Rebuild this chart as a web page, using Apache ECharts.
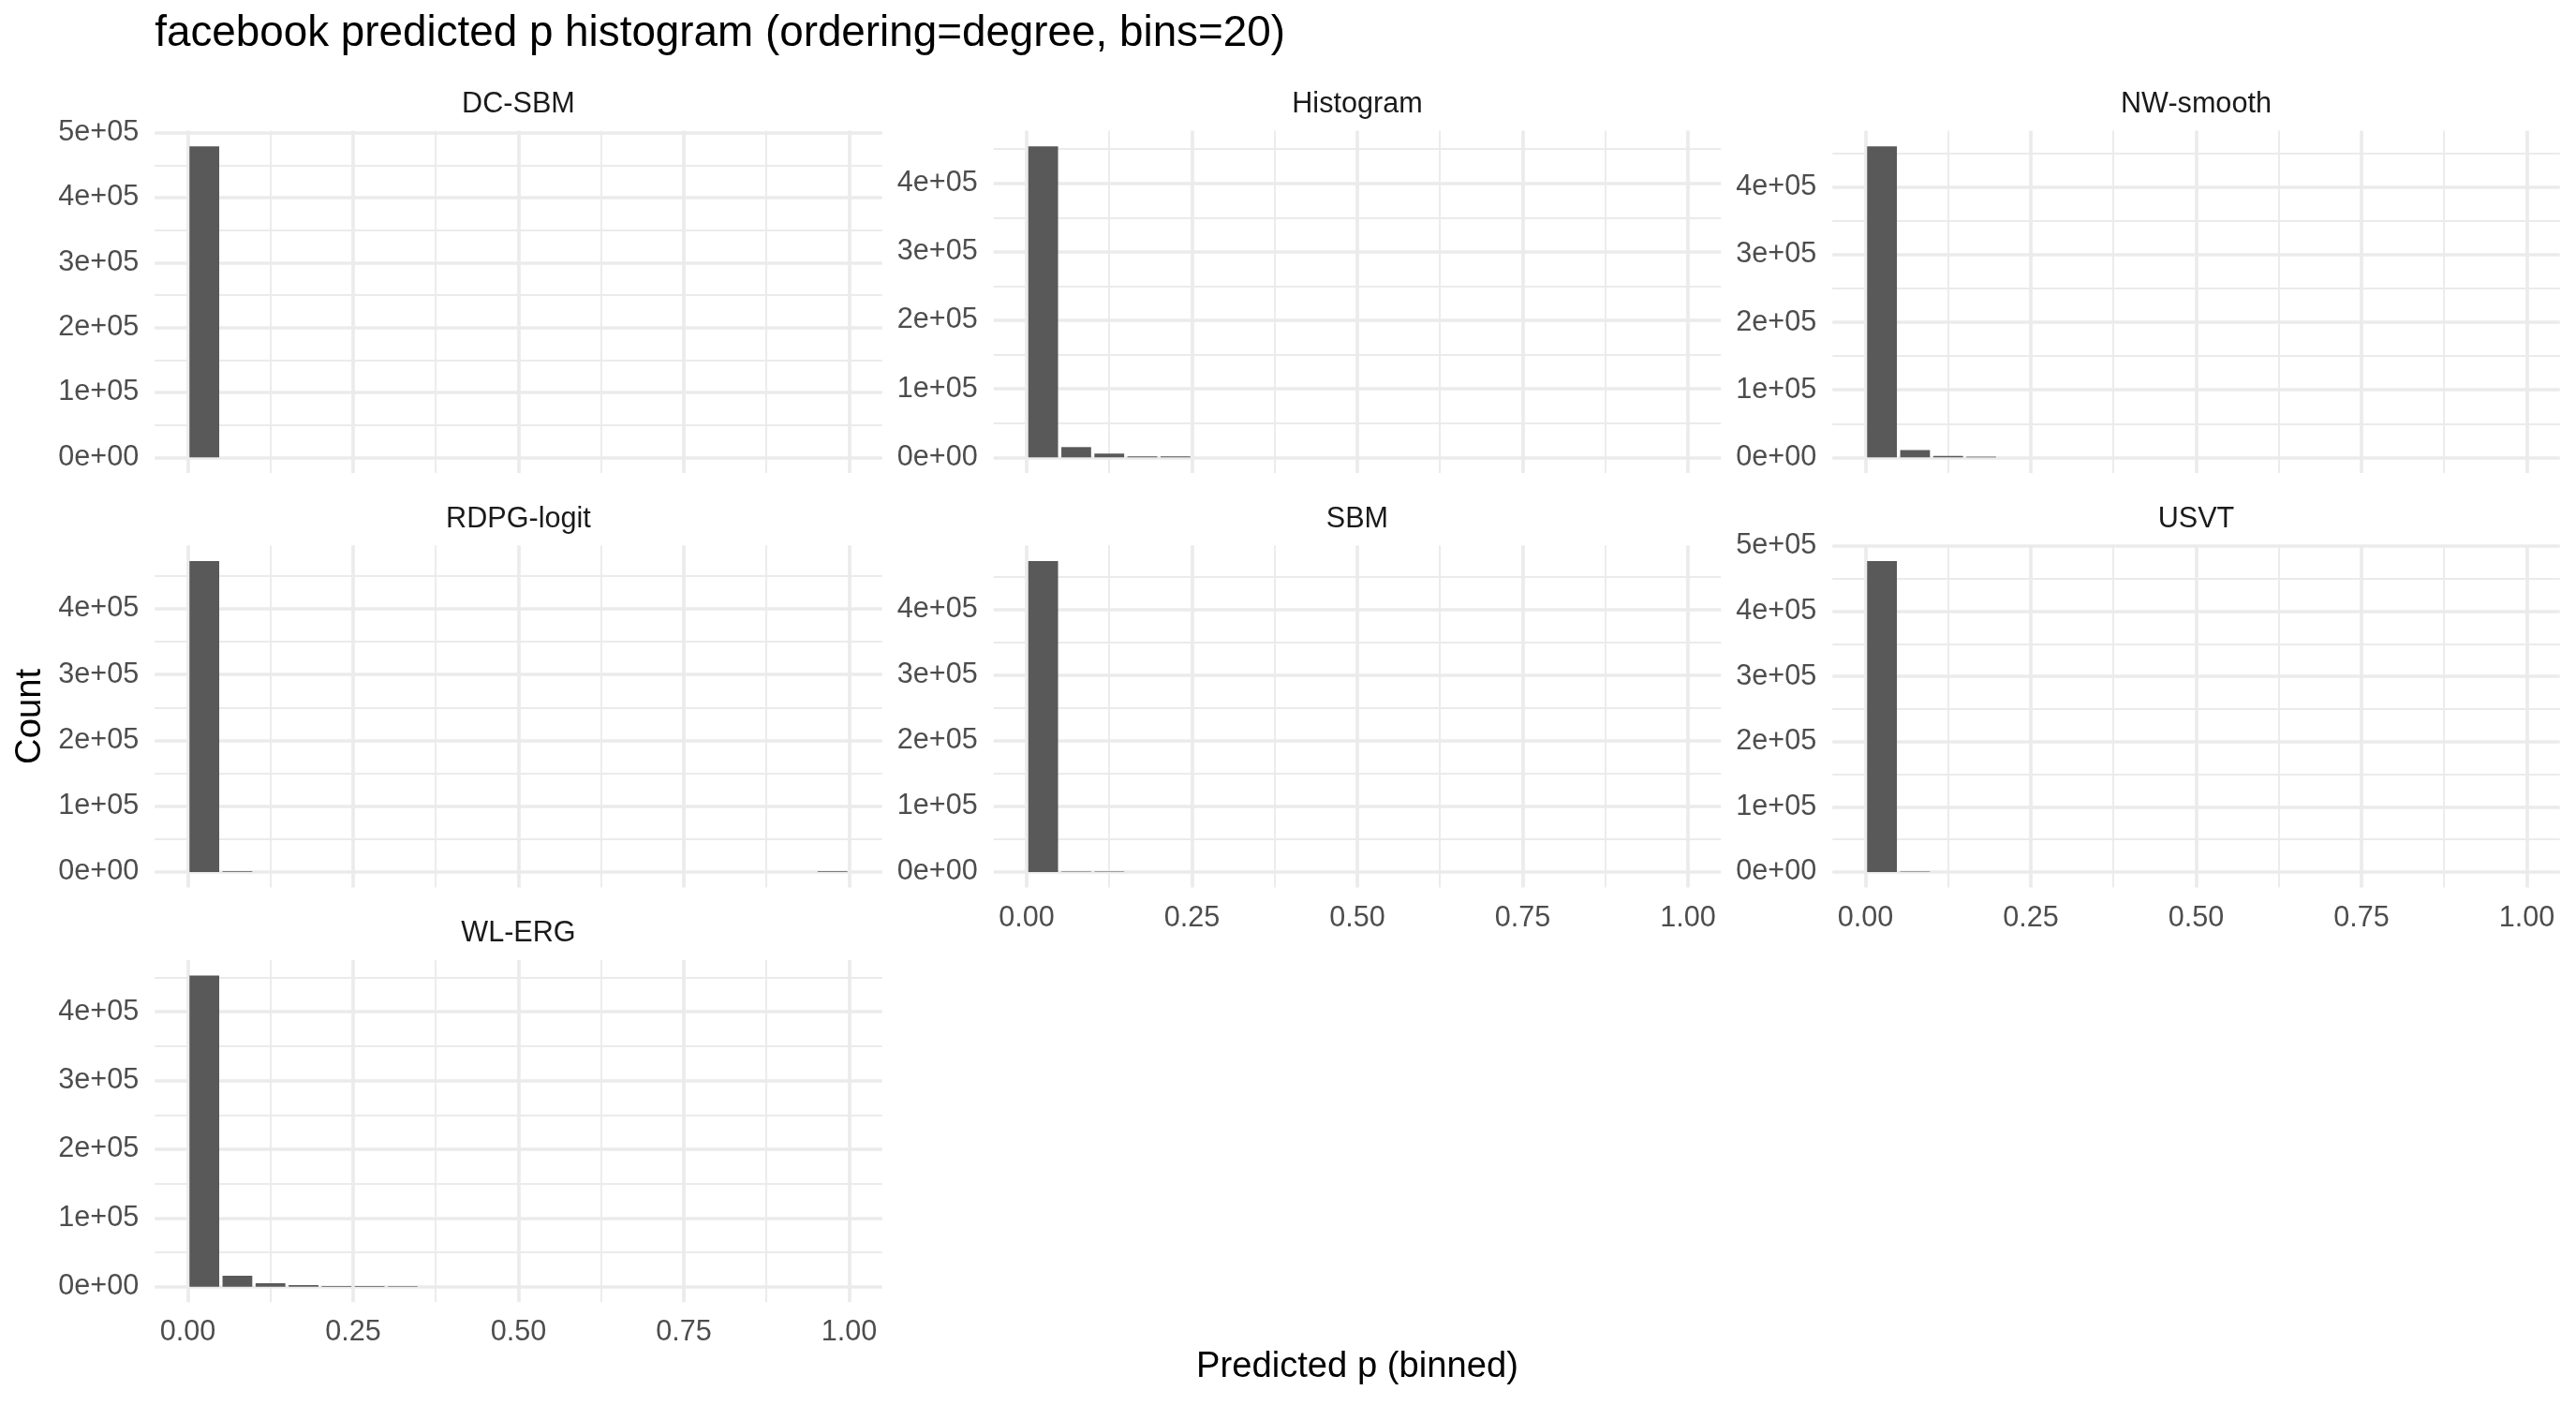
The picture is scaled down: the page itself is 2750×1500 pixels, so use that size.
<!DOCTYPE html>
<html>
<head>
<meta charset="utf-8">
<script src="https://cdn.jsdelivr.net/npm/echarts@6/dist/echarts.min.js"></script>
<style>
html,body{margin:0;padding:0;background:#fff;}
#chart{width:2750px;height:1500px;}
</style>
</head>
<body>
<div id="chart"></div>
<script>
// ---------- data ----------
const chartTitle = 'facebook predicted p histogram (ordering=degree, bins=20)';
const xTitle = 'Predicted p (binned)';
const yTitle = 'Count';
const binCenters = [0.025, 0.075, 0.125, 0.175, 0.225, 0.275, 0.325, 0.375, 0.425, 0.475,
                    0.525, 0.575, 0.625, 0.675, 0.725, 0.775, 0.825, 0.875, 0.925, 0.975];
const panelNames = ['DC-SBM', 'Histogram', 'NW-smooth', 'RDPG-logit', 'SBM', 'USVT', 'WL-ERG'];
const dcSbm     = [479000, 0, 0, 0, 0, 0, 0, 0, 0, 0, 0, 0, 0, 0, 0, 0, 0, 0, 0, 0];
const histogram = [454000, 15000, 5600, 1400, 1300, 0, 0, 0, 0, 0, 0, 0, 0, 0, 0, 0, 0, 0, 0, 0];
const nwSmooth  = [460700, 10800, 2300, 1000, 0, 0, 0, 0, 0, 0, 0, 0, 0, 0, 0, 0, 0, 0, 0, 0];
const rdpgLogit = [472700, 1000, 0, 0, 0, 0, 0, 0, 0, 0, 0, 0, 0, 0, 0, 0, 0, 0, 0, 1000];
const sbm       = [473800, 700, 700, 0, 0, 0, 0, 0, 0, 0, 0, 0, 0, 0, 0, 0, 0, 0, 0, 0];
const usvt      = [477000, 800, 0, 0, 0, 0, 0, 0, 0, 0, 0, 0, 0, 0, 0, 0, 0, 0, 0, 0];
const wlErg     = [452600, 15900, 5000, 2300, 900, 900, 800, 0, 0, 0, 0, 0, 0, 0, 0, 0, 0, 0, 0, 0];
const xTickValues = [0, 0.25, 0.5, 0.75, 1];
const xMinorValues = [0.125, 0.375, 0.625, 0.875];
const yTickValues = [0, 100000, 200000, 300000, 400000, 500000];
const yMinorValues = [50000, 150000, 250000, 350000, 450000, 550000];

const panelData = [dcSbm, histogram, nwSmooth, rdpgLogit, sbm, usvt, wlErg];

// ---------- layout ----------
const colLeft = [165.2, 1060.7, 1956.2];
const rowTop = [139.6, 582.3, 1025.0];
const panelW = 776.5, panelH = 365.3;
const showXLabels = [false, false, false, false, true, true, true];
const font = '"Liberation Sans", Arial, Helvetica, sans-serif';
const gridColor = '#EBEBEB';
const majorW = 3.7, minorW = 1.85;

function sci(v) {
  if (v === 0) return '0e+00';
  const e = Math.floor(Math.log10(Math.abs(v)) + 1e-9);
  const m = Math.round(v / Math.pow(10, e) * 100) / 100;
  return m + 'e' + (e < 0 ? '-' : '+') + String(Math.abs(e)).padStart(2, '0');
}

const grids = [], xAxes = [], yAxes = [], series = [], graphics = [];
const unit = panelW / 1.1;

panelNames.forEach((name, i) => {
  const r = Math.floor(i / 3), c = i % 3;
  const vals = panelData[i];
  const R = Math.max(...vals);
  const ymin = -0.05 * R, ymax = 1.05 * R;
  const yMaj = yTickValues.filter(v => v >= ymin && v <= ymax);
  const yMin = yMinorValues.filter(v => v >= ymin && v <= ymax);
  grids.push({left: colLeft[c], top: rowTop[r], width: panelW, height: panelH});
  const xi = xAxes.length, yi = yAxes.length;
  // major x
  xAxes.push({
    type: 'value', gridIndex: i, min: -0.05, max: 1.05,
    axisLine: {show: false},
    axisTick: {show: false, customValues: xTickValues},
    axisLabel: {show: showXLabels[i], customValues: xTickValues, margin: 17,
      formatter: v => v.toFixed(2), color: '#4D4D4D', fontSize: 30.6, fontFamily: font},
    splitLine: {show: true, lineStyle: {color: gridColor, width: majorW}}
  });
  // minor x
  xAxes.push({
    type: 'value', gridIndex: i, min: -0.05, max: 1.05,
    axisLine: {show: false},
    axisTick: {show: false, customValues: xMinorValues},
    axisLabel: {show: false},
    splitLine: {show: true, lineStyle: {color: gridColor, width: minorW}}
  });
  // major y
  yAxes.push({
    type: 'value', gridIndex: i, min: ymin, max: ymax,
    axisLine: {show: false},
    axisTick: {show: false, customValues: yMaj},
    axisLabel: {show: true, customValues: yMaj, margin: 17, formatter: sci,
      color: '#4D4D4D', fontSize: 30.6, fontFamily: font},
    splitLine: {show: true, lineStyle: {color: gridColor, width: majorW}}
  });
  // minor y
  yAxes.push({
    type: 'value', gridIndex: i, min: ymin, max: ymax,
    axisLine: {show: false},
    axisTick: {show: false, customValues: yMin},
    axisLabel: {show: false},
    splitLine: {show: true, lineStyle: {color: gridColor, width: minorW}}
  });
  series.push({
    type: 'bar', name: name, xAxisIndex: xi, yAxisIndex: yi,
    barWidth: 0.045 * unit,
    itemStyle: {color: '#595959'},
    silent: true, animation: false,
    data: binCenters.map((x, k) => [x, vals[k]])
  });
  graphics.push({
    type: 'text', x: colLeft[c] + panelW / 2, y: rowTop[r] - 28,
    style: {text: name, fill: '#1A1A1A', font: '30.6px ' + font, textAlign: 'center', textVerticalAlign: 'middle'}
  });
});

graphics.push({
  type: 'text', x: 165.2, y: 36,
  style: {text: chartTitle, fill: '#000', font: '45.8px ' + font, textAlign: 'left', textVerticalAlign: 'middle'}
});
graphics.push({
  type: 'text', x: (colLeft[0] + colLeft[2] + panelW) / 2, y: 1459,
  style: {text: xTitle, fill: '#000', font: '38.2px ' + font, textAlign: 'center', textVerticalAlign: 'middle'}
});
graphics.push({
  type: 'text', x: 32, y: (rowTop[0] + rowTop[2] + panelH) / 2, rotation: Math.PI / 2,
  style: {text: yTitle, fill: '#000', font: '38.2px ' + font, textAlign: 'center', textVerticalAlign: 'middle'}
});

const chart = echarts.init(document.getElementById('chart'), null, {renderer: 'canvas'});
chart.setOption({
  backgroundColor: '#ffffff',
  animation: false,
  grid: grids,
  xAxis: xAxes,
  yAxis: yAxes,
  series: series,
  graphic: graphics
});
</script>
</body>
</html>
